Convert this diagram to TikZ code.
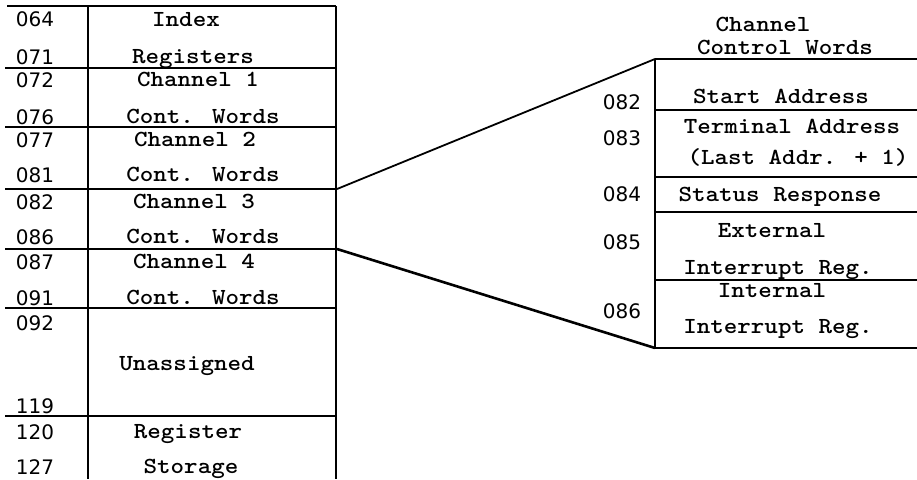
\documentclass[tikz,border=0pt]{standalone}
\usepackage{fontspec}
\usepackage{graphicx}
\newfontfamily\numfont{DejaVu Sans}
\newcommand\lblfont{\ttfamily\bfseries\fontsize{23}{25}\selectfont}
\newcommand\wide[1]{\scalebox{1.12}[1]{#1}}
\begin{document}
\begin{tikzpicture}[x=1pt,y=-1pt,
  lbl/.style={font=\lblfont, inner sep=0pt, text height=13pt, text depth=0pt},
  num/.style={font=\numfont\fontsize{20}{22}\selectfont, inner sep=0pt, text height=14pt, text depth=0pt},
  rule/.style={line width=1.6pt},
  link/.style={line width=1.8pt},
  linkb/.style={line width=2.6pt}]
\useasboundingbox (0,0) rectangle (917,479);

% ---- left memory map ----
\draw[rule] (7,6) -- (336,6);
\foreach \yy in {68,127,189,249,308,416} \draw[rule] (5,\yy) -- (336,\yy);
\draw[rule] (88,6) -- (88,479);
\draw[rule] (336,6) -- (336,479);

\node[num] (n064) at (35,20) {064};
\node[num] (n071) at (35,57) {071};
\node[num] (n072) at (35,80) {072};
\node[num] (n076) at (35,117) {076};
\node[num] (n077) at (35,140) {077};
\node[num] (n081) at (35,175) {081};
\node[num] (n082) at (35,202) {082};
\node[num] (n086) at (35,237) {086};
\node[num] (n087) at (35,262) {087};
\node[num] (n091) at (35,298) {091};
\node[num] (n092) at (35,323) {092};
\node[num] (n119) at (35,406) {119};
\node[num] (n120) at (35,432) {120};
\node[num] (n127) at (35,467) {127};

\node[lbl] (index) at (186,20) {\wide{Index}};
\node[lbl] (regs) at (193,57) {\wide{Registers}};
\node[lbl] (ch1) at (198,80) {\wide{Channel 1}};
\node[lbl] (cw1) at (203,117) {\wide{Cont. Words}};
\node[lbl] (ch2) at (195,140) {\wide{Channel 2}};
\node[lbl] (cw2) at (203,175) {\wide{Cont. Words}};
\node[lbl] (ch3) at (194,202) {\wide{Channel 3}};
\node[lbl] (cw3) at (203,237) {\wide{Cont. Words}};
\node[lbl] (ch4) at (194,262) {\wide{Channel 4}};
\node[lbl] (cw4) at (203,298) {\wide{Cont. Words}};
\node[lbl] (unas) at (187,364) {\wide{Unassigned}};
\node[lbl] (rreg) at (188,432) {\wide{Register}};
\node[lbl] (stor) at (191,467) {\wide{Storage}};

% ---- right expansion ----
\node[lbl] (hd1) at (763,25) {\wide{Channel}};
\node[lbl] (hd2) at (785,48) {\wide{Control Words}};

\draw[rule] (655,59) -- (655,348);
\foreach \yy in {59,110,177,212,280,348} \draw[rule] (655,\yy) -- (917,\yy);

\node[num] (r082) at (622,102) {082};
\node[num] (r083) at (622,138) {083};
\node[num] (r084) at (622,194) {084};
\node[num] (r085) at (622,242) {085};
\node[num] (r086) at (622,311) {086};

\node[lbl] (sa) at (781,97) {\wide{Start Address}};
\node[lbl] (ta) at (792,127) {\wide{Terminal Address}};
\node[lbl] (la) at (798,158) {\wide{(Last Addr. + 1)}};
\node[lbl] (sr) at (780,195) {\wide{Status Response}};
\node[lbl] (ext) at (772,231) {\wide{External}};
\node[lbl] (eir) at (778,268) {\wide{Interrupt Reg.}};
\node[lbl] (int) at (772,291) {\wide{Internal}};
\node[lbl] (iir) at (778,327) {\wide{Interrupt Reg.}};

% ---- connectors ----
\coordinate (c3top) at (337,189);
\coordinate (c3bot) at (337,249);
\coordinate (cwtop) at (655,59);
\coordinate (cwbot) at (655,348);
\draw[link] (c3top) -- (cwtop);
\draw[linkb] (c3bot) -- (cwbot);
\end{tikzpicture}
\end{document}
